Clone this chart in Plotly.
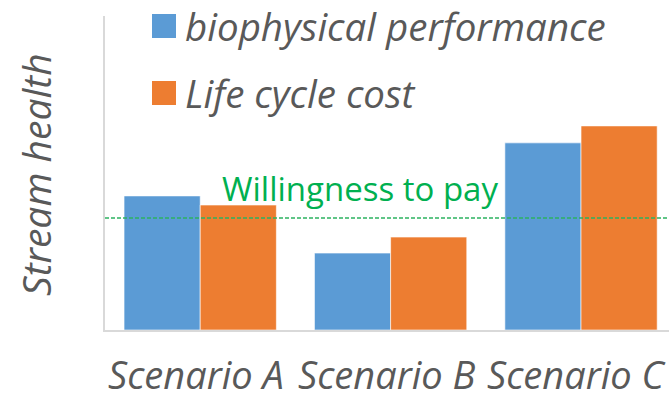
import plotly.graph_objects as go

categories = ["Scenario A", "Scenario B", "Scenario C"]
series_names = ["biophysical performance", "Life cycle cost"]
biophysical = [4.27, 2.45, 5.96]
life_cycle_cost = [3.98, 2.96, 6.50]
willingness_to_pay = 3.57
wtp_label = "Willingness to pay"
y_title = "Stream health"
colors = ["#5B9BD5", "#ED7D31"]
green = "#00B050"

FONT = "Open Sans"
GREY = "#595959"

TOP, BOT = 16, 330
H = BOT - TOP

def py(p):
    return (BOT - p) / H

def px(p):
    return (p - 105) / 564

fig = go.Figure()
for name, vals, col in zip(series_names, [biophysical, life_cycle_cost], colors):
    fig.add_trace(go.Bar(
        x=categories, y=vals, name=name, showlegend=False,
        marker=dict(color=col, line=dict(color="rgba(255,255,255,0.6)", width=1)),
    ))

# willingness to pay line
fig.add_shape(type="line", xref="paper", yref="y", x0=0, x1=1,
              y0=willingness_to_pay, y1=willingness_to_pay,
              line=dict(color="#2DB360", width=1.5, dash="4px,2px"))
fig.add_annotation(xref="paper", yref="y", x=px(220), y=willingness_to_pay,
                   text=wtp_label, showarrow=False, xanchor="left", yanchor="middle",
                   yshift=29, font=dict(family=FONT, size=33, color=green))

# custom legend
leg_y = [26, 93]
for name, col, cy in zip(series_names, colors, leg_y):
    fig.add_shape(type="rect", xref="paper", yref="paper",
                  x0=px(152), x1=px(176),
                  y0=py(cy + 12), y1=py(cy - 12),
                  fillcolor=col, line=dict(width=0))
    fig.add_annotation(xref="paper", yref="paper", x=px(183),
                       y=py(cy), text="<i>" + name + "</i>",
                       showarrow=False, xanchor="left", yanchor="middle",
                       font=dict(family=FONT, size=38.5, color=GREY))

# y title
fig.add_annotation(xref="paper", yref="paper", x=px(35), y=py(175),
                   text="<i>" + y_title + "</i>", textangle=-90, showarrow=False,
                   xanchor="center", yanchor="middle",
                   font=dict(family=FONT, size=39, color=GREY))

# category labels
for cat in categories:
    fig.add_annotation(xref="x", yref="paper", x=cat, y=py(401), xshift=-4,
                       text="<i>" + cat + "</i>", showarrow=False,
                       xanchor="center", yanchor="bottom", borderpad=0,
                       font=dict(family=FONT, size=38, color=GREY))

fig.update_layout(
    width=669, height=402,
    margin=dict(l=105, r=0, t=TOP, b=402 - BOT, autoexpand=False),
    paper_bgcolor="white", plot_bgcolor="white",
    barmode="group", bargap=0.2, bargroupgap=0,
    showlegend=False,
    xaxis=dict(
        range=[-0.5, 2.462], showgrid=False, zeroline=False, automargin=False,
        showline=True, linecolor="#D9D9D9", linewidth=2,
        showticklabels=False, ticks="",
    ),
    yaxis=dict(
        range=[0, 10], showgrid=False, zeroline=False, automargin=False,
        showline=True, linecolor="#D9D9D9", linewidth=2,
        showticklabels=False, ticks="",
    ),
)

fig.write_html("out.html", config={"displayModeBar": False},
               post_script="document.body.style.margin='0';")
